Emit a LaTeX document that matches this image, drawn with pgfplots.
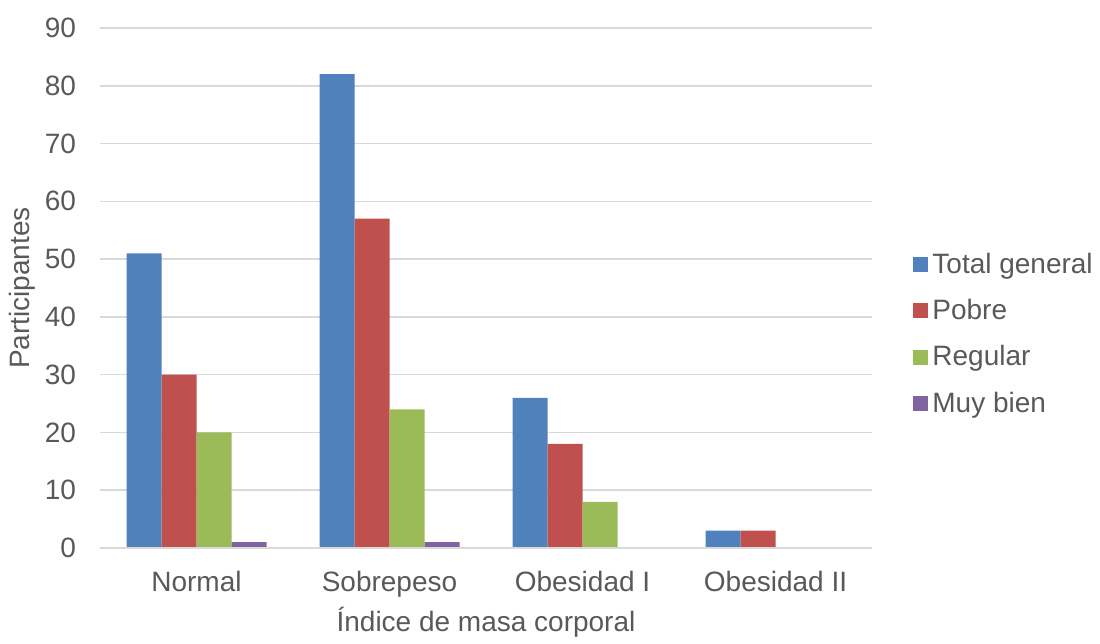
\documentclass[border=0pt]{standalone}
\usepackage{pgfplots}
\pgfplotsset{compat=1.18}
\usepackage{fontspec}
\setmainfont{Liberation Sans}
\definecolor{cTotal}{HTML}{4F81BD}
\definecolor{cPobre}{HTML}{C0504D}
\definecolor{cRegular}{HTML}{9BBB59}
\definecolor{cMuy}{HTML}{8064A2}
\definecolor{txt}{HTML}{595959}
\definecolor{gridc}{HTML}{D9D9D9}
\newcommand{\chartfont}{\fontsize{14pt}{17pt}\selectfont}
\begin{document}
\begin{tikzpicture}
\begin{axis}[
  name=ax,
  scale only axis,
  width=386pt, height=260pt,
  ybar=0pt, bar width=17.5pt,
  xmin=-0.5, xmax=3.5,
  ymin=0, ymax=90,
  ytick distance=10,
  xtick=data,
  xticklabels={Normal,Sobrepeso,Obesidad I,Obesidad II},
  major tick length=0pt,
  axis line style={draw=none},
  ymajorgrids,
  grid style={gridc, line width=0.75pt},
  /pgf/number format/assume math mode=true,
  tick label style={font=\chartfont, text=txt},
  yticklabel style={xshift=-8.5pt},
  xticklabel style={yshift=-8pt},
  label style={font=\chartfont, text=txt},
  xlabel={Índice de masa corporal},
  ylabel={Participantes},
  xlabel style={yshift=2pt},
  ylabel style={yshift=-2pt},
  legend style={draw=none, fill=none, font=\chartfont, text=txt,
    at={(rel axis cs:1,0.5)}, anchor=west, xshift=20.5pt, yshift=-23pt,
    row sep=7.5pt, inner sep=0pt,
    /tikz/every even column/.append style={column sep=0pt}},
  legend cell align=left,
  legend image code/.code={\fill[#1] (0pt,-3.75pt) rectangle (7.5pt,3.75pt);},
  every axis plot/.append style={draw=none},
]
\addplot[fill=cTotal] coordinates {(0,51) (1,82) (2,26) (3,3)};
\addplot[fill=cPobre] coordinates {(0,30) (1,57) (2,18) (3,3)};
\addplot[fill=cRegular] coordinates {(0,20) (1,24) (2,8) (3,0)};
\addplot[fill=cMuy] coordinates {(0,1) (1,1) (2,0) (3,0)};
\legend{Total general,Pobre,Regular,Muy bien}
\draw[gridc, line width=0.75pt] (rel axis cs:0,0) -- (rel axis cs:1,0);
\end{axis}
\path[use as bounding box] ([shift={(-50pt,-43.5pt)}]ax.south west) rectangle ([shift={(114pt,14pt)}]ax.north east);
\end{tikzpicture}
\end{document}
